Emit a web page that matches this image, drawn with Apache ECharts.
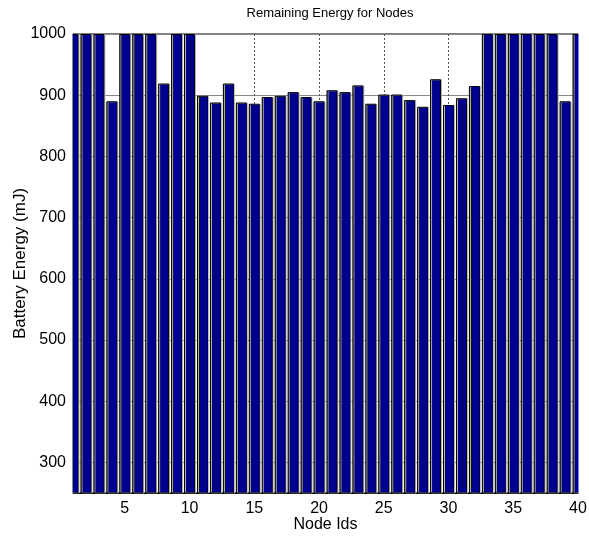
<!DOCTYPE html>
<html>
<head>
<meta charset="utf-8">
<script src="https://cdn.jsdelivr.net/npm/echarts@6/dist/echarts.min.js"></script>
<style>html,body{margin:0;padding:0;background:#fff;}#c{width:589px;height:540px;}</style>
</head>
<body>
<div id="c"></div>
<script>
const nodeIds = [1,2,3,4,5,6,7,8,9,10,11,12,13,14,15,16,17,18,19,20,21,22,23,24,25,26,27,28,29,30,31,32,33,34,35,36,37,38,39,40];
const energy = [1000,1000,1000,890,1000,1000,1000,919,1000,1000,
                899,888,919,888,886,897,899,905,897,890,
                908,905,916,886,901,901,892,881,926,884,
                895,915,1000,1000,1000,1000,1000,1000,890,1000];
const xTicks = [5,10,15,20,25,30,35,40];
const yTicks = [300,400,500,600,700,800,900,1000];
const titleText = 'Remaining Energy for Nodes';
const xName = 'Node Ids';
const yName = 'Battery Energy (mJ)';

const chart = echarts.init(document.getElementById('c'), null, {renderer:'canvas'});
const narrow = "'Liberation Sans Narrow', 'Liberation Sans', Arial, sans-serif";
const regular = "'Liberation Sans', Arial, sans-serif";
chart.setOption({
  animation:false,
  title:{text:titleText, left:325, top:2, textAlign:'center',
    textStyle:{fontFamily:narrow, fontSize:13, fontWeight:'normal', color:'#000'}},
  grid:{left:73, right:11, top:34, bottom:47, containLabel:false, outerBoundsMode:'none',
    show:true, borderColor:'#000', borderWidth:1, backgroundColor:'transparent'},
  xAxis:{type:'value', min:1, max:40,
    name:xName, nameLocation:'middle', nameGap:24, nameMoveOverlap:false,
    nameTextStyle:{fontFamily:narrow, fontSize:16, color:'#000'},
    axisLine:{show:true, lineStyle:{color:'#000'}},
    axisTick:{show:true, inside:true, length:4, customValues:xTicks, lineStyle:{color:'#000'}},
    axisLabel:{customValues:xTicks, fontFamily:narrow, fontSize:16, color:'#000', margin:8},
    splitLine:{show:true, lineStyle:{color:'#555', type:[2,2], width:1}}
  },
  yAxis:{type:'value', min:250, max:1000,
    name:yName, nameLocation:'middle', nameGap:44, nameMoveOverlap:false,
    nameTextStyle:{fontFamily:regular, fontSize:17, color:'#000'},
    axisLine:{show:true, lineStyle:{color:'#000'}},
    axisTick:{show:true, inside:true, length:4, customValues:yTicks, lineStyle:{color:'#000'}},
    axisLabel:{customValues:yTicks, formatter:(v)=>String(v), fontFamily:narrow, fontSize:16, color:'#000', margin:7},
    splitLine:{show:true, lineStyle:{color:'#888', width:1}}
  },
  series:[{
    type:'bar',
    data: nodeIds.map((id,i)=>[id, energy[i]]),
    barWidth:11,
    clip:true,
    itemStyle:{color:'#00008f', borderColor:'#000', borderWidth:1,
      shadowColor:'#b8b8b8', shadowOffsetX:1, shadowOffsetY:0, shadowBlur:0}
  }]
});
// mask the half bars that stick out past the plot's left and right edges
const pL = chart.convertToPixel({gridIndex:0}, [nodeIds[0], 1000]);
const pR = chart.convertToPixel({gridIndex:0}, [nodeIds[nodeIds.length-1], 250]);
chart.setOption({
  graphic:[
    {type:'rect', z:100, shape:{x:pL[0]-7, y:pL[1]-2, width:6.5, height:pR[1]-pL[1]+4}, style:{fill:'#fff'}},
    {type:'rect', z:100, shape:{x:pR[0]+0.5, y:pL[1]-2, width:10, height:pR[1]-pL[1]+4}, style:{fill:'#fff'}}
  ]
});
</script>
</body>
</html>
